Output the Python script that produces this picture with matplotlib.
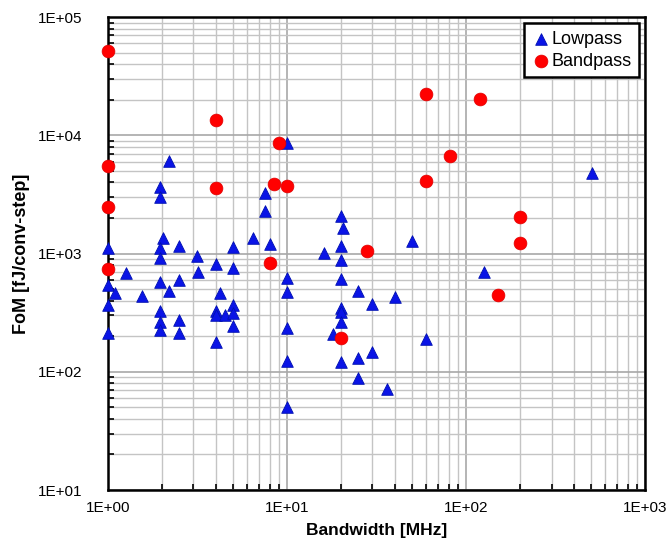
import numpy as np
import matplotlib
matplotlib.use("Agg")
import matplotlib.pyplot as plt
from matplotlib.ticker import LogLocator, FuncFormatter, NullFormatter

plt.rcParams['font.family'] = ['Liberation Sans', 'DejaVu Sans']

# Lowpass designs: bandwidth [MHz], FoM [fJ/conv-step]
lowpass_bw = [1, 1, 1, 1,
              1.1, 1.27, 1.56,
              1.95, 1.95, 2.03, 1.95, 1.95, 1.95, 1.95, 1.95, 1.95,
              2.2, 2.2,
              2.5, 2.5, 2.5, 2.5,
              3.15, 3.2,
              4, 4, 4, 4, 4.24, 4.5,
              5, 5, 5, 5, 5,
              6.45, 7.56, 7.56, 8,
              10, 10, 10, 10, 10, 10,
              16, 18,
              20, 20.5, 20, 20, 20, 20, 20, 20, 20,
              25, 25, 25,
              30, 30, 36, 40, 50, 60, 126, 505]
lowpass_fom = [1110, 542, 367, 211,
               466, 688, 437,
               3670, 2990, 1343, 1106, 910, 578, 325, 262, 225,
               6100, 480,
               1157, 597, 274, 211,
               952, 700,
               811, 330, 300, 180, 460, 300,
               1142, 760, 367, 312, 244,
               1360, 3230, 2290, 1200,
               8550, 620, 475, 233, 123, 50,
               1020, 208,
               2075, 1633, 1164, 881, 609, 344, 318, 265, 122,
               485, 131, 88,
               374, 148, 72, 426, 1276, 188, 700, 4770]

# Bandpass designs
bandpass_bw = [1, 1, 1, 1, 4, 4, 8, 8.5, 9, 10, 20, 28, 60, 60, 81, 120, 150, 200, 200]
bandpass_fom = [52000, 5500, 2500, 740, 13500, 3580, 840, 3870, 8600, 3700,
                194, 1050, 22600, 4100, 6700, 20500, 450, 2020, 1230]

fig = plt.figure(figsize=(6.7, 5.54), dpi=100)
ax = fig.add_axes([0.161, 0.1155, 0.802, 0.8535])

ax.scatter(lowpass_bw, lowpass_fom, marker='^', s=70, color='#0a14e6',
           edgecolors='#0010b0', linewidths=0.6, label='Lowpass', zorder=3, clip_on=False)
ax.scatter(bandpass_bw, bandpass_fom, marker='o', s=85, color='#ff0000',
           edgecolors='#e00000', linewidths=0.5, label='Bandpass', zorder=3, clip_on=False)

ax.set_xscale('log')
ax.set_yscale('log')
ax.set_xlim(1, 1000)
ax.set_ylim(10, 1e5)

fmt = FuncFormatter(lambda v, p: '1E+%02d' % int(round(np.log10(v))))
ax.xaxis.set_major_formatter(fmt)
ax.yaxis.set_major_formatter(fmt)
ax.xaxis.set_minor_locator(LogLocator(base=10, subs=np.arange(2, 10)))
ax.yaxis.set_minor_locator(LogLocator(base=10, subs=np.arange(2, 10)))
ax.xaxis.set_minor_formatter(NullFormatter())
ax.yaxis.set_minor_formatter(NullFormatter())

ax.grid(which='major', color='#a8a8a8', linewidth=1.2)
ax.grid(which='minor', color='#c4c4c4', linewidth=1.0)
ax.set_axisbelow(True)

ax.tick_params(which='both', direction='in', top=False, right=False, labelsize=11, colors='black')
ax.tick_params(which='major', length=0)
ax.tick_params(axis='x', which='major', pad=8)
ax.tick_params(axis='y', which='major', pad=18)
ax.tick_params(which='minor', length=4, width=1.2)
for s in ax.spines.values():
    s.set_linewidth(1.8)
    s.set_color('black')

ax.set_xlabel('Bandwidth [MHz]', fontsize=12.5, fontweight='bold', labelpad=6)
ax.set_ylabel('FoM [fJ/conv-step]', fontsize=13, fontweight='bold', labelpad=6)

leg = ax.legend(loc='upper right', fontsize=13, frameon=True, fancybox=False,
                edgecolor='black', framealpha=1, handlelength=1.0, handletextpad=0.1,
                borderaxespad=0.35, labelspacing=0.3, borderpad=0.4)
leg.get_frame().set_linewidth(1.8)

fig.savefig('out.png', dpi=100)
